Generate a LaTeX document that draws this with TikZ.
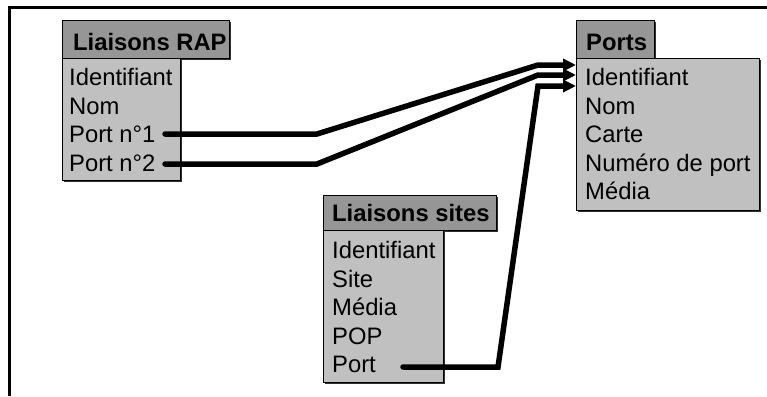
\documentclass[tikz,border=0pt]{standalone}
\usepackage{fontspec}
\setmainfont{Liberation Sans}
\usetikzlibrary{arrows.meta}
\definecolor{hdrgray}{HTML}{969696}
\definecolor{bodygray}{HTML}{C0C0C0}
\definecolor{shadowgray}{HTML}{303030}
\begin{document}
\begin{tikzpicture}[x=1pt,y=-1pt,
  frameline/.style={line width=3pt},
  boxshadow/.style={fill=shadowgray},
  headbox/.style={draw=black, line width=1pt, fill=hdrgray, anchor=north west, inner sep=0pt},
  bodybox/.style={draw=black, line width=1pt, fill=bodygray, anchor=north west, inner sep=0pt},
  title/.style={anchor=base west, inner sep=0pt, font=\fontsize{23.8}{28}\selectfont\bfseries},
  field/.style={anchor=base west, inner sep=0pt, font=\fontsize{23.8}{28}\selectfont},
  link/.style={line width=5.5pt, line cap=round, line join=miter,
    -{Triangle[length=13pt,width=12pt]}}
]
\useasboundingbox (0,0) rectangle (767,396);

% outer frame (top and left edges)
\draw[frameline] (767,7.5) -- (9.5,7.5) -- (9.5,396);

% drop shadows of the tables
\fill[boxshadow] (64,22) rectangle (231,60);
\fill[boxshadow] (64,60) rectangle (182,182);
\fill[boxshadow] (578,22) rectangle (656,60);
\fill[boxshadow] (578,60) rectangle (761,212);
\fill[boxshadow] (325,197) rectangle (498,232);
\fill[boxshadow] (325,232) rectangle (445,384);

% table: Liaisons RAP
\node[bodybox, minimum width=118pt, minimum height=122pt] (rapBody) at (62,58) {};
\node[headbox, minimum width=167pt, minimum height=38pt] (rapHead) at (62,20) {};
\node[title] (rapTitle) at (73,50) {Liaisons RAP};
\node[field] (rapId)  at (69,85.5)  {Identifiant};
\node[field] (rapNom) at (69,114)   {Nom};
\node[field] (rapP1)  at (69,142.5) {Port n°1};
\node[field] (rapP2)  at (69,171)   {Port n°2};

% table: Ports
\node[bodybox, minimum width=183pt, minimum height=152pt] (portsBody) at (576,58) {};
\node[headbox, minimum width=78pt, minimum height=38pt] (portsHead) at (576,20) {};
\node[title] (portsTitle) at (586,50) {Ports};
\node[field] (portsId)    at (585,85.5)  {Identifiant};
\node[field] (portsNom)   at (585,114)   {Nom};
\node[field] (portsCarte) at (585,142.5) {Carte};
\node[field] (portsNum)   at (585,171)   {Numéro de port};
\node[field] (portsMedia) at (585,199.5) {Média};

% table: Liaisons sites
\node[bodybox, minimum width=120pt, minimum height=152pt] (sitesBody) at (323,230) {};
\node[headbox, minimum width=173pt, minimum height=35pt] (sitesHead) at (323,195) {};
\node[title] (sitesTitle) at (332,221) {Liaisons sites};
\node[field] (sitesId)    at (332,258.5) {Identifiant};
\node[field] (sitesSite)  at (332,287)   {Site};
\node[field] (sitesMedia) at (332,315.5) {Média};
\node[field] (sitesPop)   at (332,344)   {POP};
\node[field] (sitesPort)  at (332,372.5) {Port};

% connector end points and bends
\coordinate (s1) at (165,134);
\coordinate (b1) at (317,134);
\coordinate (k1) at (538,65);
\coordinate (t1) at (portsBody.west |- 0,65);
\coordinate (s2) at (165,164);
\coordinate (b2) at (317,164);
\coordinate (k2) at (538,75);
\coordinate (t2) at (portsBody.west |- 0,75);
\coordinate (s3) at (403,367);
\coordinate (b3) at (498,367);
\coordinate (k3) at (538,86);
\coordinate (t3) at (portsBody.west |- 0,86);

% foreign keys pointing to Ports.Identifiant
\draw[link] (s1) -- (b1) -- (k1) -- (t1);
\draw[link] (s2) -- (b2) -- (k2) -- (t2);
\draw[link] (s3) -- (b3) -- (k3) -- (t3);
\end{tikzpicture}
\end{document}
